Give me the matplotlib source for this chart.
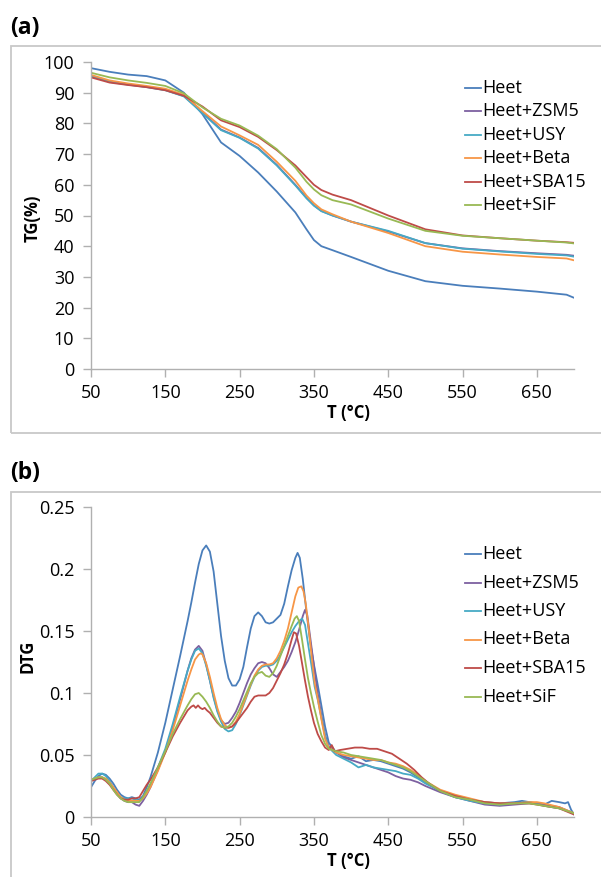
import numpy as np
import matplotlib.pyplot as plt
from matplotlib.lines import Line2D
from matplotlib.patches import Rectangle

plt.rcParams['font.family'] = ['Open Sans', 'DejaVu Sans']

# ---------------- data ----------------
labels = ['Heet', 'Heet+ZSM5', 'Heet+USY', 'Heet+Beta', 'Heet+SBA15', 'Heet+SiF']
colors = ['#4a7ebb', '#7d60a0', '#46aac5', '#f79646', '#be4b48', '#98b954']

x_ticks = [50, 150, 250, 350, 450, 550, 650]
tg_ticks = [0, 10, 20, 30, 40, 50, 60, 70, 80, 90, 100]
dtg_ticks = [0, 0.05, 0.1, 0.15, 0.2, 0.25]
dtg_tick_labels = ['0', '0.05', '0.1', '0.15', '0.2', '0.25']

# (a) TG
t_tg = [50, 75, 100, 125, 150, 175, 200, 225, 250, 275, 300, 325, 340, 350, 360,
        375, 400, 450, 500, 550, 600, 650, 690, 700]
tg_heet = [98.0, 96.8, 95.9, 95.4, 94.0, 90.0, 83.0, 73.8, 69.4, 64.0, 57.8, 51.0,
           45.5, 42.0, 40.0, 38.7, 36.5, 32.0, 28.6, 27.1, 26.2, 25.2, 24.2, 23.2]
tg_zsm5 = [95.3, 93.6, 92.7, 91.9, 90.9, 88.9, 83.6, 78.0, 75.4, 72.0, 66.5, 60.0,
           55.8, 53.3, 51.5, 50.0, 48.0, 44.8, 41.0, 39.3, 38.4, 37.7, 37.2, 36.9]
tg_usy = [95.5, 93.5, 92.6, 91.8, 90.8, 88.8, 83.3, 77.8, 75.3, 71.8, 66.3, 59.8,
          55.6, 53.2, 51.4, 50.0, 48.0, 45.0, 41.0, 39.2, 38.3, 37.5, 37.0, 36.6]
tg_beta = [95.8, 94.0, 93.0, 92.2, 91.3, 89.3, 84.0, 79.0, 76.1, 73.0, 67.5, 61.3,
           56.5, 54.0, 52.0, 50.4, 48.0, 44.3, 40.0, 38.2, 37.3, 36.5, 36.0, 35.4]
tg_sba15 = [95.0, 93.3, 92.5, 91.8, 90.8, 89.0, 85.5, 81.0, 78.8, 75.6, 71.3, 66.3,
            62.5, 60.0, 58.3, 56.8, 55.0, 50.0, 45.5, 43.5, 42.6, 41.8, 41.3, 41.1]
tg_sif = [96.5, 95.0, 94.0, 93.2, 92.2, 89.8, 85.2, 81.5, 79.3, 76.0, 71.6, 65.6,
          61.0, 58.5, 56.6, 55.0, 53.6, 49.0, 45.0, 43.4, 42.6, 41.8, 41.2, 40.9]

# (b) DTG
t_heet = [50, 55, 60, 65, 70, 75, 80, 85, 90, 95, 100, 105, 110, 115, 120, 125, 130,
          140, 150, 160, 170, 180, 185, 190, 195, 200, 205, 210, 215, 220, 225, 230,
          235, 240, 245, 250, 255, 260, 265, 270, 275, 280, 285, 290, 295, 300, 305,
          310, 315, 320, 325, 328, 331, 335, 340, 345, 350, 355, 360, 365, 370, 380,
          390, 400, 410, 420, 430, 440, 450, 460, 470, 480, 490, 500, 520, 540, 560,
          580, 600, 620, 630, 640, 650, 660, 670, 680, 688, 692, 696, 700]
dtg_heet = [0.024, 0.029, 0.033, 0.035, 0.034, 0.031, 0.027, 0.022, 0.018, 0.016,
            0.015, 0.016, 0.015, 0.014, 0.017, 0.024, 0.032, 0.052, 0.076, 0.103,
            0.130, 0.158, 0.173, 0.189, 0.204, 0.215, 0.219, 0.214, 0.198, 0.172,
            0.146, 0.126, 0.112, 0.106, 0.106, 0.111, 0.121, 0.137, 0.152, 0.162,
            0.165, 0.162, 0.157, 0.156, 0.157, 0.160, 0.163, 0.172, 0.186, 0.199,
            0.209, 0.213, 0.209, 0.192, 0.165, 0.141, 0.123, 0.107, 0.090, 0.073,
            0.060, 0.052, 0.049, 0.047, 0.049, 0.045, 0.046, 0.045, 0.043, 0.041,
            0.039, 0.036, 0.032, 0.028, 0.021, 0.016, 0.014, 0.012, 0.011, 0.012,
            0.013, 0.012, 0.011, 0.010, 0.013, 0.012, 0.011, 0.012, 0.006, 0.002]

t_zsm5 = [50, 55, 60, 65, 70, 75, 80, 85, 90, 95, 100, 105, 110, 115, 120, 125, 130,
          140, 150, 160, 170, 180, 185, 190, 195, 200, 205, 210, 215, 220, 225, 230,
          235, 240, 245, 250, 255, 260, 265, 270, 275, 280, 285, 290, 295, 300, 305,
          310, 315, 320, 325, 330, 335, 338, 341, 345, 350, 355, 360, 365, 370, 380,
          390, 400, 410, 420, 430, 440, 450, 460, 470, 480, 490, 500, 520, 540, 560,
          580, 600, 620, 640, 660, 680, 700]
dtg_zsm5 = [0.030, 0.031, 0.032, 0.032, 0.030, 0.027, 0.023, 0.019, 0.015, 0.013,
            0.012, 0.012, 0.010, 0.009, 0.013, 0.018, 0.024, 0.038, 0.053, 0.073,
            0.095, 0.118, 0.128, 0.135, 0.138, 0.134, 0.123, 0.110, 0.097, 0.086,
            0.078, 0.075, 0.076, 0.080, 0.085, 0.092, 0.100, 0.108, 0.115, 0.120,
            0.124, 0.125, 0.124, 0.120, 0.115, 0.113, 0.117, 0.121, 0.126, 0.133,
            0.141, 0.151, 0.162, 0.167, 0.163, 0.145, 0.122, 0.100, 0.082, 0.066,
            0.057, 0.052, 0.048, 0.046, 0.044, 0.042, 0.040, 0.038, 0.036, 0.033,
            0.031, 0.030, 0.028, 0.025, 0.020, 0.016, 0.013, 0.010, 0.009, 0.010,
            0.011, 0.010, 0.008, 0.003]

t_usy = [50, 55, 60, 65, 70, 75, 80, 85, 90, 95, 100, 105, 110, 115, 120, 125, 130,
         140, 150, 160, 170, 180, 185, 190, 195, 200, 205, 210, 215, 220, 225, 230,
         235, 240, 245, 250, 255, 260, 265, 270, 275, 280, 285, 290, 295, 300, 305,
         310, 315, 320, 325, 330, 334, 338, 342, 347, 351, 355, 360, 365, 370, 380,
         390, 400, 410, 420, 430, 440, 450, 460, 470, 480, 490, 500, 520, 540, 560,
         580, 600, 620, 640, 660, 680, 700]
dtg_usy = [0.029, 0.032, 0.035, 0.035, 0.033, 0.029, 0.024, 0.019, 0.016, 0.015,
           0.015, 0.015, 0.014, 0.013, 0.015, 0.020, 0.026, 0.040, 0.055, 0.075,
           0.097, 0.118, 0.127, 0.134, 0.136, 0.132, 0.122, 0.110, 0.096, 0.085,
           0.077, 0.071, 0.069, 0.070, 0.075, 0.082, 0.090, 0.098, 0.106, 0.113,
           0.118, 0.121, 0.122, 0.122, 0.123, 0.126, 0.131, 0.137, 0.143, 0.149,
           0.154, 0.158, 0.160, 0.155, 0.140, 0.121, 0.105, 0.095, 0.080, 0.065,
           0.056, 0.050, 0.047, 0.044, 0.040, 0.042, 0.040, 0.039, 0.038, 0.037,
           0.035, 0.034, 0.031, 0.027, 0.021, 0.016, 0.013, 0.011, 0.010, 0.011,
           0.012, 0.009, 0.007, 0.003]

t_beta = [50, 55, 60, 65, 70, 75, 80, 85, 90, 95, 100, 105, 110, 115, 120, 125, 130,
          140, 150, 160, 170, 180, 185, 190, 195, 198, 200, 205, 210, 215, 220, 225,
          230, 235, 240, 245, 250, 255, 260, 265, 270, 275, 280, 285, 290, 295, 300,
          305, 310, 315, 320, 325, 329, 333, 336, 339, 343, 347, 351, 355, 360, 365,
          370, 380, 390, 400, 410, 420, 430, 440, 450, 460, 470, 480, 490, 500, 520,
          540, 560, 580, 600, 620, 640, 650, 660, 680, 700]
dtg_beta = [0.030, 0.031, 0.032, 0.032, 0.031, 0.028, 0.024, 0.020, 0.016, 0.014,
            0.013, 0.013, 0.013, 0.013, 0.015, 0.019, 0.024, 0.037, 0.052, 0.070,
            0.090, 0.110, 0.119, 0.127, 0.131, 0.132, 0.131, 0.124, 0.113, 0.100,
            0.088, 0.079, 0.074, 0.072, 0.073, 0.077, 0.083, 0.091, 0.099, 0.107,
            0.114, 0.119, 0.122, 0.123, 0.123, 0.124, 0.128, 0.134, 0.142, 0.152,
            0.165, 0.178, 0.185, 0.186, 0.182, 0.172, 0.152, 0.129, 0.108, 0.096,
            0.079, 0.063, 0.056, 0.052, 0.050, 0.049, 0.048, 0.047, 0.046, 0.046,
            0.044, 0.043, 0.041, 0.038, 0.034, 0.029, 0.022, 0.018, 0.015, 0.012,
            0.011, 0.011, 0.012, 0.012, 0.011, 0.008, 0.003]

t_sba15 = [50, 55, 60, 65, 70, 75, 80, 85, 90, 95, 100, 105, 110, 115, 120, 125, 130,
           140, 150, 160, 170, 175, 180, 185, 188, 191, 194, 197, 200, 203, 206, 210,
           215, 220, 225, 230, 235, 240, 245, 250, 255, 260, 265, 270, 275, 280, 285,
           290, 295, 300, 305, 310, 315, 320, 323, 326, 330, 334, 338, 342, 346, 350,
           355, 360, 365, 370, 374, 378, 385, 395, 405, 415, 425, 435, 445, 455, 465,
           475, 485, 495, 505, 520, 540, 560, 580, 600, 620, 640, 660, 680, 700]
dtg_sba15 = [0.029, 0.030, 0.031, 0.031, 0.029, 0.026, 0.022, 0.018, 0.015, 0.014,
             0.014, 0.015, 0.015, 0.016, 0.021, 0.026, 0.030, 0.040, 0.052, 0.065,
             0.076, 0.081, 0.086, 0.089, 0.090, 0.088, 0.090, 0.088, 0.087, 0.088,
             0.086, 0.084, 0.080, 0.076, 0.073, 0.072, 0.072, 0.073, 0.076, 0.080,
             0.084, 0.088, 0.093, 0.097, 0.098, 0.098, 0.098, 0.100, 0.104, 0.110,
             0.116, 0.123, 0.132, 0.143, 0.149, 0.148, 0.138, 0.124, 0.110, 0.097,
             0.086, 0.076, 0.067, 0.061, 0.056, 0.054, 0.058, 0.053, 0.054, 0.055,
             0.056, 0.056, 0.055, 0.055, 0.053, 0.051, 0.047, 0.043, 0.038, 0.032,
             0.027, 0.021, 0.017, 0.014, 0.012, 0.011, 0.011, 0.011, 0.009, 0.007,
             0.002]

t_sif = [50, 55, 60, 65, 70, 75, 80, 85, 90, 95, 100, 105, 110, 115, 120, 125, 130,
         140, 150, 160, 170, 180, 185, 190, 195, 200, 205, 210, 215, 220, 225, 230,
         235, 240, 245, 250, 255, 260, 265, 270, 275, 280, 285, 290, 295, 300, 305,
         310, 315, 320, 324, 327, 330, 334, 338, 342, 346, 350, 355, 360, 365, 370,
         380, 390, 400, 410, 420, 430, 440, 450, 460, 470, 480, 490, 500, 520, 540,
         560, 580, 600, 620, 640, 660, 680, 700]
dtg_sif = [0.030, 0.031, 0.032, 0.032, 0.030, 0.027, 0.022, 0.018, 0.015, 0.013,
           0.012, 0.012, 0.012, 0.012, 0.016, 0.021, 0.027, 0.040, 0.053, 0.067,
           0.079, 0.090, 0.095, 0.099, 0.100, 0.097, 0.093, 0.088, 0.082, 0.077,
           0.073, 0.072, 0.073, 0.076, 0.081, 0.087, 0.094, 0.101, 0.108, 0.113,
           0.116, 0.117, 0.114, 0.113, 0.116, 0.122, 0.130, 0.138, 0.146, 0.154,
           0.160, 0.162, 0.158, 0.143, 0.127, 0.112, 0.100, 0.089, 0.077, 0.066,
           0.059, 0.055, 0.053, 0.052, 0.050, 0.049, 0.048, 0.047, 0.046, 0.044,
           0.042, 0.040, 0.037, 0.033, 0.029, 0.021, 0.016, 0.014, 0.011, 0.010,
           0.011, 0.011, 0.009, 0.007, 0.003]

tg_series = [tg_heet, tg_zsm5, tg_usy, tg_beta, tg_sba15, tg_sif]
dtg_series = [(t_heet, dtg_heet), (t_zsm5, dtg_zsm5), (t_usy, dtg_usy),
              (t_beta, dtg_beta), (t_sba15, dtg_sba15), (t_sif, dtg_sif)]

# ---------------- figure ----------------
W, H = 601, 877
fig = plt.figure(figsize=(W / 100, H / 100), dpi=100)

def fx(x):
    return x / W

def fy(y):
    return 1 - y / H

frame_col = '#c8c8c8'
axis_col = '#b0b0b0'

# chart-area frames (they run off the right edge like in the source)
fig.patches.append(Rectangle((fx(11), fy(433)), 1.2, (433 - 46) / H,
                             transform=fig.transFigure, fill=False,
                             ec=frame_col, lw=1.3))
fig.patches.append(Rectangle((fx(11), fy(900)), 1.2, (900 - 492) / H,
                             transform=fig.transFigure, fill=False,
                             ec=frame_col, lw=1.3))

fig.text(fx(10), fy(28), '(a)', fontsize=16.5, fontweight='bold', va='center')
fig.text(fx(10), fy(473), '(b)', fontsize=16.5, fontweight='bold', va='center')

ax1 = fig.add_axes([fx(91), fy(369), 483 / W, 307 / H])
ax2 = fig.add_axes([fx(91), fy(817), 483 / W, 310 / H])


def style(ax):
    for s in ['top', 'right']:
        ax.spines[s].set_visible(False)
    for s in ['left', 'bottom']:
        ax.spines[s].set_color(axis_col)
        ax.spines[s].set_linewidth(1.0)
    ax.tick_params(direction='out', length=6, width=1.0, color=axis_col,
                   labelcolor='black', labelsize=13)
    ax.tick_params(axis='y', pad=6)
    ax.tick_params(axis='x', pad=5)
    ax.set_xlim(50, 700)
    ax.set_xticks(x_ticks)
    ax.set_xticklabels([str(v) for v in x_ticks])
    ax.set_facecolor('none')


# (a)
for vals, c in zip(tg_series, colors):
    ax1.plot(t_tg, vals, color=c, lw=1.3, solid_capstyle='round')
style(ax1)
ax1.set_ylim(0, 100)
ax1.set_yticks(tg_ticks)
ax1.set_yticklabels([str(v) for v in tg_ticks])
ax1.set_xlabel('T (°C)', fontsize=12, fontweight='bold')
ax1.set_ylabel('TG(%)', fontsize=12, fontweight='bold')
ax1.xaxis.set_label_coords((348 - 91) / 483, -(404 - 369) / 307)
ax1.yaxis.set_label_coords(-(91 - 42) / 483, (369 - 218) / 307)

# (b)
for (tt, vals), c in zip(dtg_series, colors):
    ax2.plot(tt, vals, color=c, lw=1.3, solid_capstyle='round')
style(ax2)
ax2.set_ylim(0, 0.25)
ax2.set_yticks(dtg_ticks)
ax2.set_yticklabels(dtg_tick_labels)
ax2.set_xlabel('T (°C)', fontsize=12, fontweight='bold')
ax2.set_ylabel('DTG', fontsize=12, fontweight='bold')
ax2.xaxis.set_label_coords((348 - 91) / 483, -(852 - 817) / 310)
ax2.yaxis.set_label_coords(-(91 - 36) / 483, (817 - 656) / 310)

# legends drawn by hand to keep the Excel spacing
def legend(y0, step):
    for i, (lab, c) in enumerate(zip(labels, colors)):
        y = y0 + i * step
        fig.add_artist(Line2D([fx(465), fx(481)], [fy(y), fy(y)], color=c, lw=1.3,
                              transform=fig.transFigure))
        fig.text(fx(482), fy(y), lab, fontsize=13, va='center', ha='left')


legend(88, 23.4)
legend(554, 28.5)

fig.savefig('out.png', dpi=100)
